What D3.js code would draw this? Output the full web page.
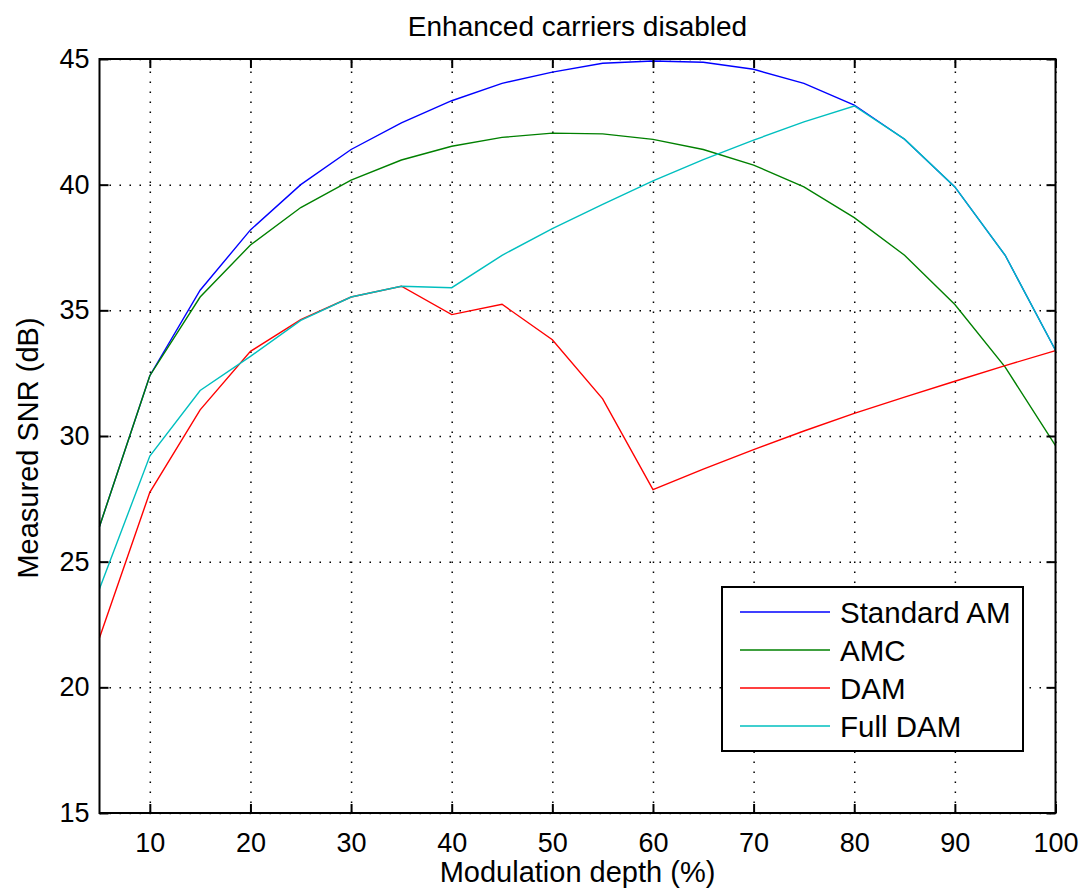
<html>
<head>
<meta charset="utf-8">
<title>Enhanced carriers disabled</title>
<style>
  body { margin: 0; background: #fff; }
  text { font-family: "Liberation Sans", Arial, Helvetica, sans-serif; }
</style>
</head>
<body>
<script src="https://cdn.jsdelivr.net/npm/d3@7"></script>
<script>
// data
var depth = [5, 10, 15, 20, 25, 30, 35, 40, 45, 50, 55, 60, 65, 70, 75, 80, 85, 90, 95, 100];
var standardAM = [26.4, 32.4, 35.8, 38.2, 40.0, 41.4, 42.46, 43.34, 44.03, 44.48, 44.83, 44.92, 44.87, 44.59, 44.03, 43.17, 41.81, 39.91, 37.19, 33.41];
var amc = [26.4, 32.4, 35.53, 37.6, 39.09, 40.18, 40.98, 41.53, 41.88, 42.05, 42.02, 41.8, 41.4, 40.78, 39.91, 38.69, 37.19, 35.23, 32.74, 29.62];
var dam = [21.97, 27.76, 31.04, 33.37, 34.63, 35.53, 35.96, 34.83, 35.24, 33.83, 31.48, 27.87, 28.68, 29.46, 30.2, 30.9, 31.55, 32.18, 32.8, 33.4];
var fullDam = [23.92, 29.2, 31.81, 33.17, 34.6, 35.53, 35.96, 35.9, 37.19, 38.25, 39.22, 40.15, 41.0, 41.77, 42.5, 43.13, 41.81, 39.91, 37.19, 33.41];
var seriesNames = ["Standard AM", "AMC", "DAM", "Full DAM"];
var seriesColors = ["#0000ff", "#008000", "#ff0000", "#00bfbf"];
var xTicks = [10, 20, 30, 40, 50, 60, 70, 80, 90, 100];
var yTicks = [15, 20, 25, 30, 35, 40, 45];

var width = 1083, height = 889;
var margin = {top: 59, right: 27.5, bottom: 76, left: 99.5};
var pw = width - margin.left - margin.right;
var ph = height - margin.top - margin.bottom;

var svg = d3.select("body").append("svg")
  .attr("width", width)
  .attr("height", height);

var x = d3.scaleLinear().domain([5, 100]).range([0, pw]);
var y = d3.scaleLinear().domain([15, 45]).range([ph, 0]);

var g = svg.append("g")
  .attr("transform", "translate(" + margin.left + "," + margin.top + ")");

// dotted grid
g.append("g").attr("class", "grid")
  .attr("transform", "translate(0," + ph + ")")
  .call(d3.axisBottom(x).tickValues(xTicks).tickSize(-ph).tickFormat(""));
g.append("g").attr("class", "grid")
  .call(d3.axisLeft(y).tickValues(yTicks).tickSize(-pw).tickFormat(""));
g.selectAll(".grid .domain").remove();
g.selectAll(".grid line")
  .attr("stroke", "#000")
  .attr("stroke-width", 1.5)
  .attr("stroke-dasharray", "1.5,8.5");

// lines
var allSeries = [standardAM, amc, dam, fullDam];
var line = d3.line()
  .x(function(d, i) { return x(depth[i]); })
  .y(function(d) { return y(d); });

g.selectAll(".series")
  .data(allSeries)
  .enter()
  .append("path")
  .attr("class", "series")
  .attr("fill", "none")
  .attr("stroke", function(d, i) { return seriesColors[i]; })
  .attr("stroke-width", 1.4)
  .attr("d", line);

// axes, ticks pointing inward on all four sides
var tickLen = 9;
var xb = g.append("g").attr("transform", "translate(0," + ph + ")")
  .call(d3.axisBottom(x).tickValues(xTicks).tickSizeInner(-tickLen).tickSizeOuter(0).tickPadding(20));
var xt = g.append("g")
  .call(d3.axisTop(x).tickValues(xTicks).tickSizeInner(-tickLen).tickSizeOuter(0).tickFormat(""));
var yl = g.append("g")
  .call(d3.axisLeft(y).tickValues(yTicks).tickSizeInner(-tickLen).tickSizeOuter(0).tickPadding(10));
var yr = g.append("g").attr("transform", "translate(" + pw + ",0)")
  .call(d3.axisRight(y).tickValues(yTicks).tickSizeInner(-tickLen).tickSizeOuter(0).tickFormat(""));

[xb, xt, yl, yr].forEach(function(a) {
  a.selectAll("line").attr("stroke", "#000").attr("stroke-width", 2);
  a.select(".domain").remove();
  a.selectAll("text").attr("fill", "#000").style("font-size", "27px")
    .style("font-family", "'Liberation Sans', Arial, sans-serif");
});

// frame
g.append("rect")
  .attr("width", pw)
  .attr("height", ph)
  .attr("fill", "none")
  .attr("stroke", "#000")
  .attr("stroke-width", 2);

// title and axis labels
svg.append("text")
  .attr("x", margin.left + pw / 2)
  .attr("y", 36)
  .attr("text-anchor", "middle")
  .style("font-size", "28px")
  .text("Enhanced carriers disabled");

svg.append("text")
  .attr("x", margin.left + pw / 2)
  .attr("y", 882)
  .attr("text-anchor", "middle")
  .style("font-size", "29px")
  .text("Modulation depth (%)");

svg.append("text")
  .attr("transform", "translate(38,448) rotate(-90)")
  .attr("text-anchor", "middle")
  .style("font-size", "29px")
  .text("Measured SNR (dB)");

// legend
var legend = svg.append("g").attr("transform", "translate(722,587)");
legend.append("rect")
  .attr("width", 301)
  .attr("height", 164)
  .attr("fill", "#fff")
  .attr("stroke", "#000")
  .attr("stroke-width", 2);

var rows = legend.selectAll(".row")
  .data(seriesNames)
  .enter()
  .append("g")
  .attr("transform", function(d, i) { return "translate(0," + (25 + i * 38) + ")"; });
rows.append("line")
  .attr("x1", 18).attr("x2", 108)
  .attr("stroke", function(d, i) { return seriesColors[i]; })
  .attr("stroke-width", 1.6);
rows.append("text")
  .attr("x", 118)
  .attr("dy", "0.36em")
  .style("font-size", "29.5px")
  .text(function(d) { return d; });
</script>
</body>
</html>
